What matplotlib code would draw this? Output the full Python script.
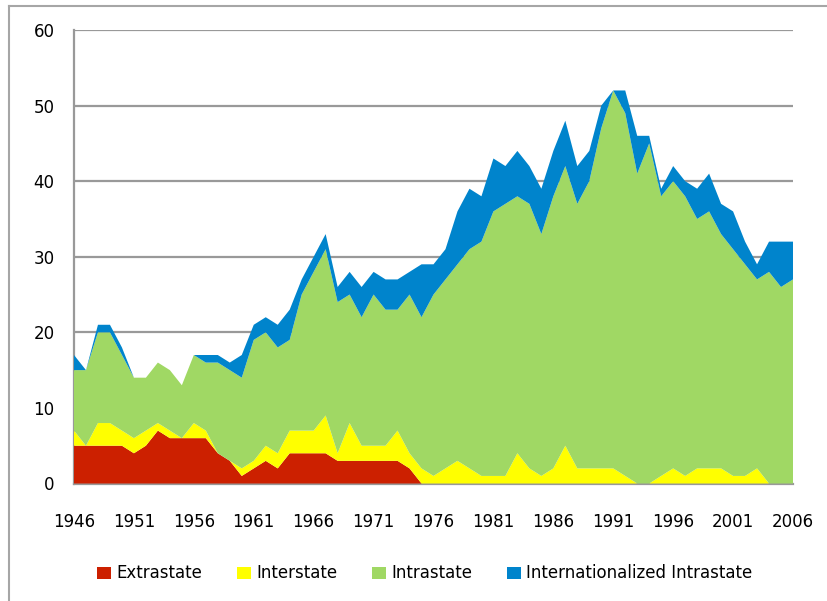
import matplotlib
matplotlib.use("Agg")
import matplotlib.pyplot as plt
from matplotlib.lines import Line2D
from matplotlib.patches import Patch
import numpy as np

# years 1946-2006
years = np.arange(1946, 2007)

# number of conflicts per type
extrastate = [5, 5, 5, 5, 5, 4, 5, 7, 6, 6, 6, 6, 4, 3, 1, 2, 3, 2, 4, 4,
              4, 4, 3, 3, 3, 3, 3, 3, 2, 0, 0, 0, 0, 0, 0, 0, 0, 0, 0, 0,
              0, 0, 0, 0, 0, 0, 0, 0, 0, 0, 0, 0, 0, 0, 0, 0, 0, 0, 0, 0, 0]
interstate = [2, 0, 3, 3, 2, 2, 2, 1, 1, 0, 2, 1, 0, 0, 1, 1, 2, 2, 3, 3,
              3, 5, 1, 5, 2, 2, 2, 4, 2, 2, 1, 2, 3, 2, 1, 1, 1, 4, 2, 1,
              2, 5, 2, 2, 2, 2, 1, 0, 0, 1, 2, 1, 2, 2, 2, 1, 1, 2, 0, 0, 0]
intrastate = [8, 10, 12, 12, 10, 8, 7, 8, 8, 7, 9, 9, 12, 12, 12, 16, 15, 14, 12, 18,
              21, 22, 20, 17, 17, 20, 18, 16, 21, 20, 24, 25, 26, 29, 31, 35, 36, 34, 35, 32,
              36, 37, 35, 38, 45, 50, 48, 41, 45, 37, 38, 37, 33, 34, 31, 30, 28, 25, 28, 26, 27]
internationalized = [2, 0, 1, 1, 1, 0, 0, 0, 0, 0, 0, 1, 1, 1, 3, 2, 2, 3, 4, 2,
                     2, 2, 2, 3, 4, 3, 4, 4, 3, 7, 4, 4, 7, 8, 6, 7, 5, 6, 5, 6,
                     6, 6, 5, 4, 3, 0, 3, 5, 1, 1, 2, 2, 4, 5, 4, 5, 3, 2, 4, 6, 5]

labels = ["Extrastate", "Interstate", "Intrastate", "Internationalized Intrastate"]
colors = ["#CC2000", "#FFFF00", "#A0D864", "#0084CC"]

W, H = 828, 601
fig = plt.figure(figsize=(W / 100, H / 100), dpi=100)
ax = fig.add_axes([74 / W, 1 - 483.5 / H, (793 - 74) / W, (483.5 - 30) / H])

ax.stackplot(years, extrastate, interstate, intrastate, internationalized,
             colors=colors, linewidth=0)

ax.set_xlim(1946, 2006)
ax.set_ylim(0, 60)
ax.set_xticks(np.arange(1946, 2007, 5))
ax.set_yticks(np.arange(0, 61, 10))
ax.tick_params(axis="x", length=0, pad=21, labelsize=12)
ax.tick_params(axis="y", length=0, pad=14, labelsize=12)

ax.yaxis.grid(True, color="#999999", linewidth=1.6)
ax.set_axisbelow(True)
for s in ["top", "right"]:
    ax.spines[s].set_visible(False)
for s in ["left", "bottom"]:
    ax.spines[s].set_color("#999999")
    ax.spines[s].set_linewidth(1.6)
    ax.spines[s].set_zorder(0.5)

handles = [Patch(facecolor=c, edgecolor="none") for c in colors]
fig.legend(handles, labels, loc="center", bbox_to_anchor=(425 / W, 1 - 573.5 / H),
           ncol=4, frameon=False, fontsize=12, handlelength=0.84, handleheight=0.76,
           handletextpad=0.3, columnspacing=2.1)

# outer chart frame (only left and top edges visible)
fig.add_artist(Line2D([8.5 / W, 8.5 / W], [0, 1 - 6 / H], transform=fig.transFigure,
                      color="#A6A6A6", linewidth=1.5))
fig.add_artist(Line2D([8.5 / W, 1], [1 - 6 / H, 1 - 6 / H], transform=fig.transFigure,
                      color="#A6A6A6", linewidth=1.5))

fig.savefig("out.png", dpi=100)
